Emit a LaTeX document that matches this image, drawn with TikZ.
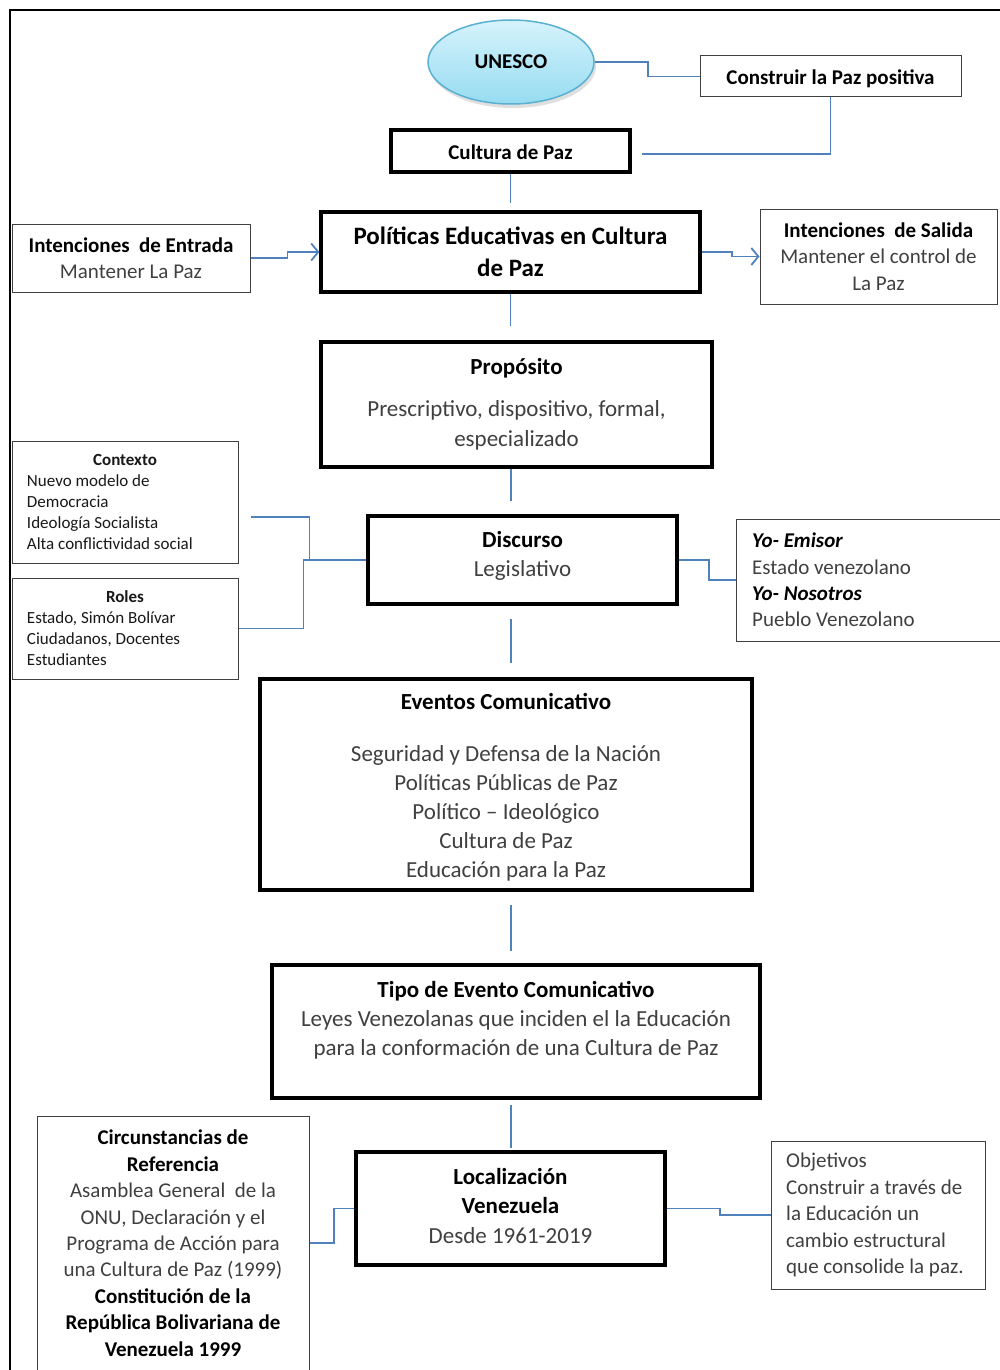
\documentclass[tikz,border=0pt]{standalone}
\usepackage{fontspec}
\setmainfont{Carlito}
\usetikzlibrary{arrows.meta,calc,shadows,shapes.geometric}
\definecolor{conn}{HTML}{4F81BD}
\definecolor{bodygray}{HTML}{404040}
\definecolor{ellborder}{HTML}{5AB0D2}
\definecolor{elltop}{HTML}{D6F3FC}
\definecolor{ellbot}{HTML}{96DCF1}
\newcommand{\myfs}[2]{\fontsize{#1}{#2}\selectfont}
\newcommand{\mttl}[1]{{\bfseries\color{black}#1}}
\newcommand{\mydep}[1]{\rule[-#1]{0pt}{#1}}
\begin{document}
\begin{tikzpicture}[x=1pt,y=-1pt,
  thickbox/.style={draw=black, line width=3.2pt, inner sep=0pt, align=center},
  thinbox/.style={draw=black!75, line width=1pt, inner sep=0pt},
  conline/.style={draw=conn, line width=1.8pt},
  arr/.style={conline, -{Straight Barb[length=7pt,width=17pt]}},
  body23/.style={font=\myfs{23}{29}, text=bodygray},
  body21/.style={font=\myfs{21}{26.4}, text=bodygray}
]
\useasboundingbox (0,0) rectangle (1000,1370);
\fill[white] (0,0) rectangle (1000,1370);
% frame
\draw[line width=2.5pt] (1003,10) -- (10,10) -- (10,1375);
\coordinate (ax) at (511,0);

% top
\node[ellipse, draw=ellborder, line width=1.5pt, top color=elltop, bottom color=ellbot,
      minimum width=166pt, minimum height=84pt, inner sep=0pt,
      drop shadow={shadow xshift=2pt, shadow yshift=-4pt, opacity=0.25},
      font=\myfs{21}{26}\bfseries] (unesco) at (511,62) {UNESCO};
\node[thinbox, minimum width=261pt, minimum height=41pt, font=\myfs{21}{26}\bfseries]
      (construir) at (830.5,76.5) {\rule{0pt}{19pt}Construir la Paz positiva};
\node[thickbox, minimum width=239pt, minimum height=42pt, font=\myfs{21}{26}\bfseries]
      (cultura) at (510.5,151) {\rule{0pt}{18pt}Cultura de Paz};

% politicas row
\node[thickbox, minimum width=379pt, minimum height=80pt, font=\myfs{25}{32}\bfseries]
      (politicas) at (510.5,252) {Políticas Educativas en Cultura\\de Paz};
\node[thinbox, align=center, minimum width=238pt, minimum height=68pt, font=\myfs{21}{26}, text=bodygray]
      (entrada) at (131,258) {\mttl{Intenciones~ de Entrada}\\Mantener La Paz};
\node[thinbox, align=center, minimum width=237pt, minimum height=95pt, font=\myfs{21}{26.5}, text=bodygray]
      (salida) at (878.5,256.5) {\mttl{Intenciones~ de Salida}\\Mantener el control de\\La Paz};

% proposito
\node[thickbox, minimum width=391pt, minimum height=125pt, font=\myfs{23}{30}, text=bodygray]
      (proposito) at (516.5,404.5) {\mttl{Propósito}\\[12pt]Prescriptivo, dispositivo, formal,\\especializado};

% discurso row
\node[thickbox, minimum width=309pt, minimum height=88pt, body23]
      (discurso) at (522.5,560) {\mttl{Discurso}\\Legislativo\mydep{13pt}};
\node[thinbox, align=left, minimum width=226pt, minimum height=122pt, font=\myfs{17}{21}, text=black!90]
      (contexto) at (125,502) {\makebox[196pt]{\bfseries Contexto}\\Nuevo modelo de\\Democracia\\Ideología Socialista\\Alta conflictividad social};
\node[thinbox, align=left, minimum width=226pt, minimum height=101pt, font=\myfs{17}{21}, text=black!90]
      (roles) at (125,628.5) {\makebox[196pt]{\bfseries Roles}\\Estado, Simón Bolívar\\Ciudadanos, Docentes\\Estudiantes};
\node[thinbox, minimum width=268pt, minimum height=122pt] (yo) at (870,580) {};
\node[align=left, anchor=west, inner sep=0pt, body21]
      (yoT) at (752,580) {\mttl{\itshape Yo- Emisor}\\Estado venezolano\\\mttl{\itshape Yo- Nosotros}\\Pueblo Venezolano};

% eventos
\node[thickbox, minimum width=492pt, minimum height=211pt, body23]
      (eventos) at (506,784.5) {\mttl{\rule{0pt}{21pt}Eventos Comunicativo}\\[23pt]Seguridad y Defensa de la Nación\\Políticas Públicas de Paz\\Político – Ideológico\\Cultura de Paz\\Educación para la Paz};

% tipo
\node[thickbox, minimum width=488pt, minimum height=133pt, body23]
      (tipo) at (516,1031.5) {\mttl{Tipo de Evento Comunicativo}\\Leyes Venezolanas que inciden el la Educación\\para la conformación de una Cultura de Paz\mydep{26pt}};

% localizacion row
\node[thickbox, minimum width=309pt, minimum height=113pt, font=\myfs{23}{29.5}, text=bodygray]
      (loc) at (510.5,1208.5) {\mttl{Localización}\\\mttl{Venezuela}\\Desde 1961-2019\mydep{6pt}};
\node[thinbox, anchor=north west, minimum width=272pt, minimum height=270pt]
      (circ) at (37,1116) {};
\node[align=center, anchor=north, inner sep=0pt, body21]
      (circT) at (173,1130) {\mttl{Circunstancias de}\\\mttl{Referencia}\\Asamblea General~ de la\\ONU, Declaración y el\\Programa de Acción para\\una Cultura de Paz (1999)\\\mttl{Constitución de la}\\\mttl{República Bolivariana de}\\\mttl{Venezuela 1999}};
\node[thinbox, minimum width=214pt, minimum height=148pt] (obj) at (878,1215) {};
\node[align=left, anchor=west, inner sep=0pt, body21]
      (objT) at (786,1215) {Objetivos\\Construir a través de\\la Educación un\\cambio estructural\\que consolide la paz.};

% connectors
\draw[conline] (unesco.east) -- ++(53,0) |- (construir.west);
\draw[conline] (construir.south) |- ([xshift=10pt,yshift=-3pt]cultura.east);
\draw[conline, shorten >=7pt] (cultura.south) -- (cultura.south |- politicas.north);
\draw[arr] (entrada.east) -- ++(37,0) |- (politicas.west);
\draw[arr] (politicas.east) -- ++(30,0) |- (salida.west);
\draw[conline, shorten >=14pt] (politicas.south) -- (politicas.south |- proposito.north);
\draw[conline, shorten >=13pt] (proposito.south -| ax) -- (discurso.north -| ax);
\draw[conline] ($(contexto.east)+(12,15)$) -- ++(59,0) |- (discurso.west);
\draw[conline] (roles.east) -- ++(65,0) |- (discurso.west);
\draw[conline] (discurso.east) -- ++(30,0) |- (yo.west);
\draw[conline, shorten <=13pt, shorten >=14pt] (discurso.south -| ax) -- (eventos.north -| ax);
\draw[conline, shorten <=13pt, shorten >=12pt] (eventos.south -| ax) -- (tipo.north -| ax);
\draw[conline, shorten <=5pt, shorten >=2pt] (tipo.south -| ax) -- (loc.north -| ax);
\draw[conline] ($(circ.north east)+(0,127)$) -- ++(24,0) |- (loc.west);
\draw[conline] (loc.east) -- ++(53,0) |- (obj.west);
\end{tikzpicture}
\end{document}
